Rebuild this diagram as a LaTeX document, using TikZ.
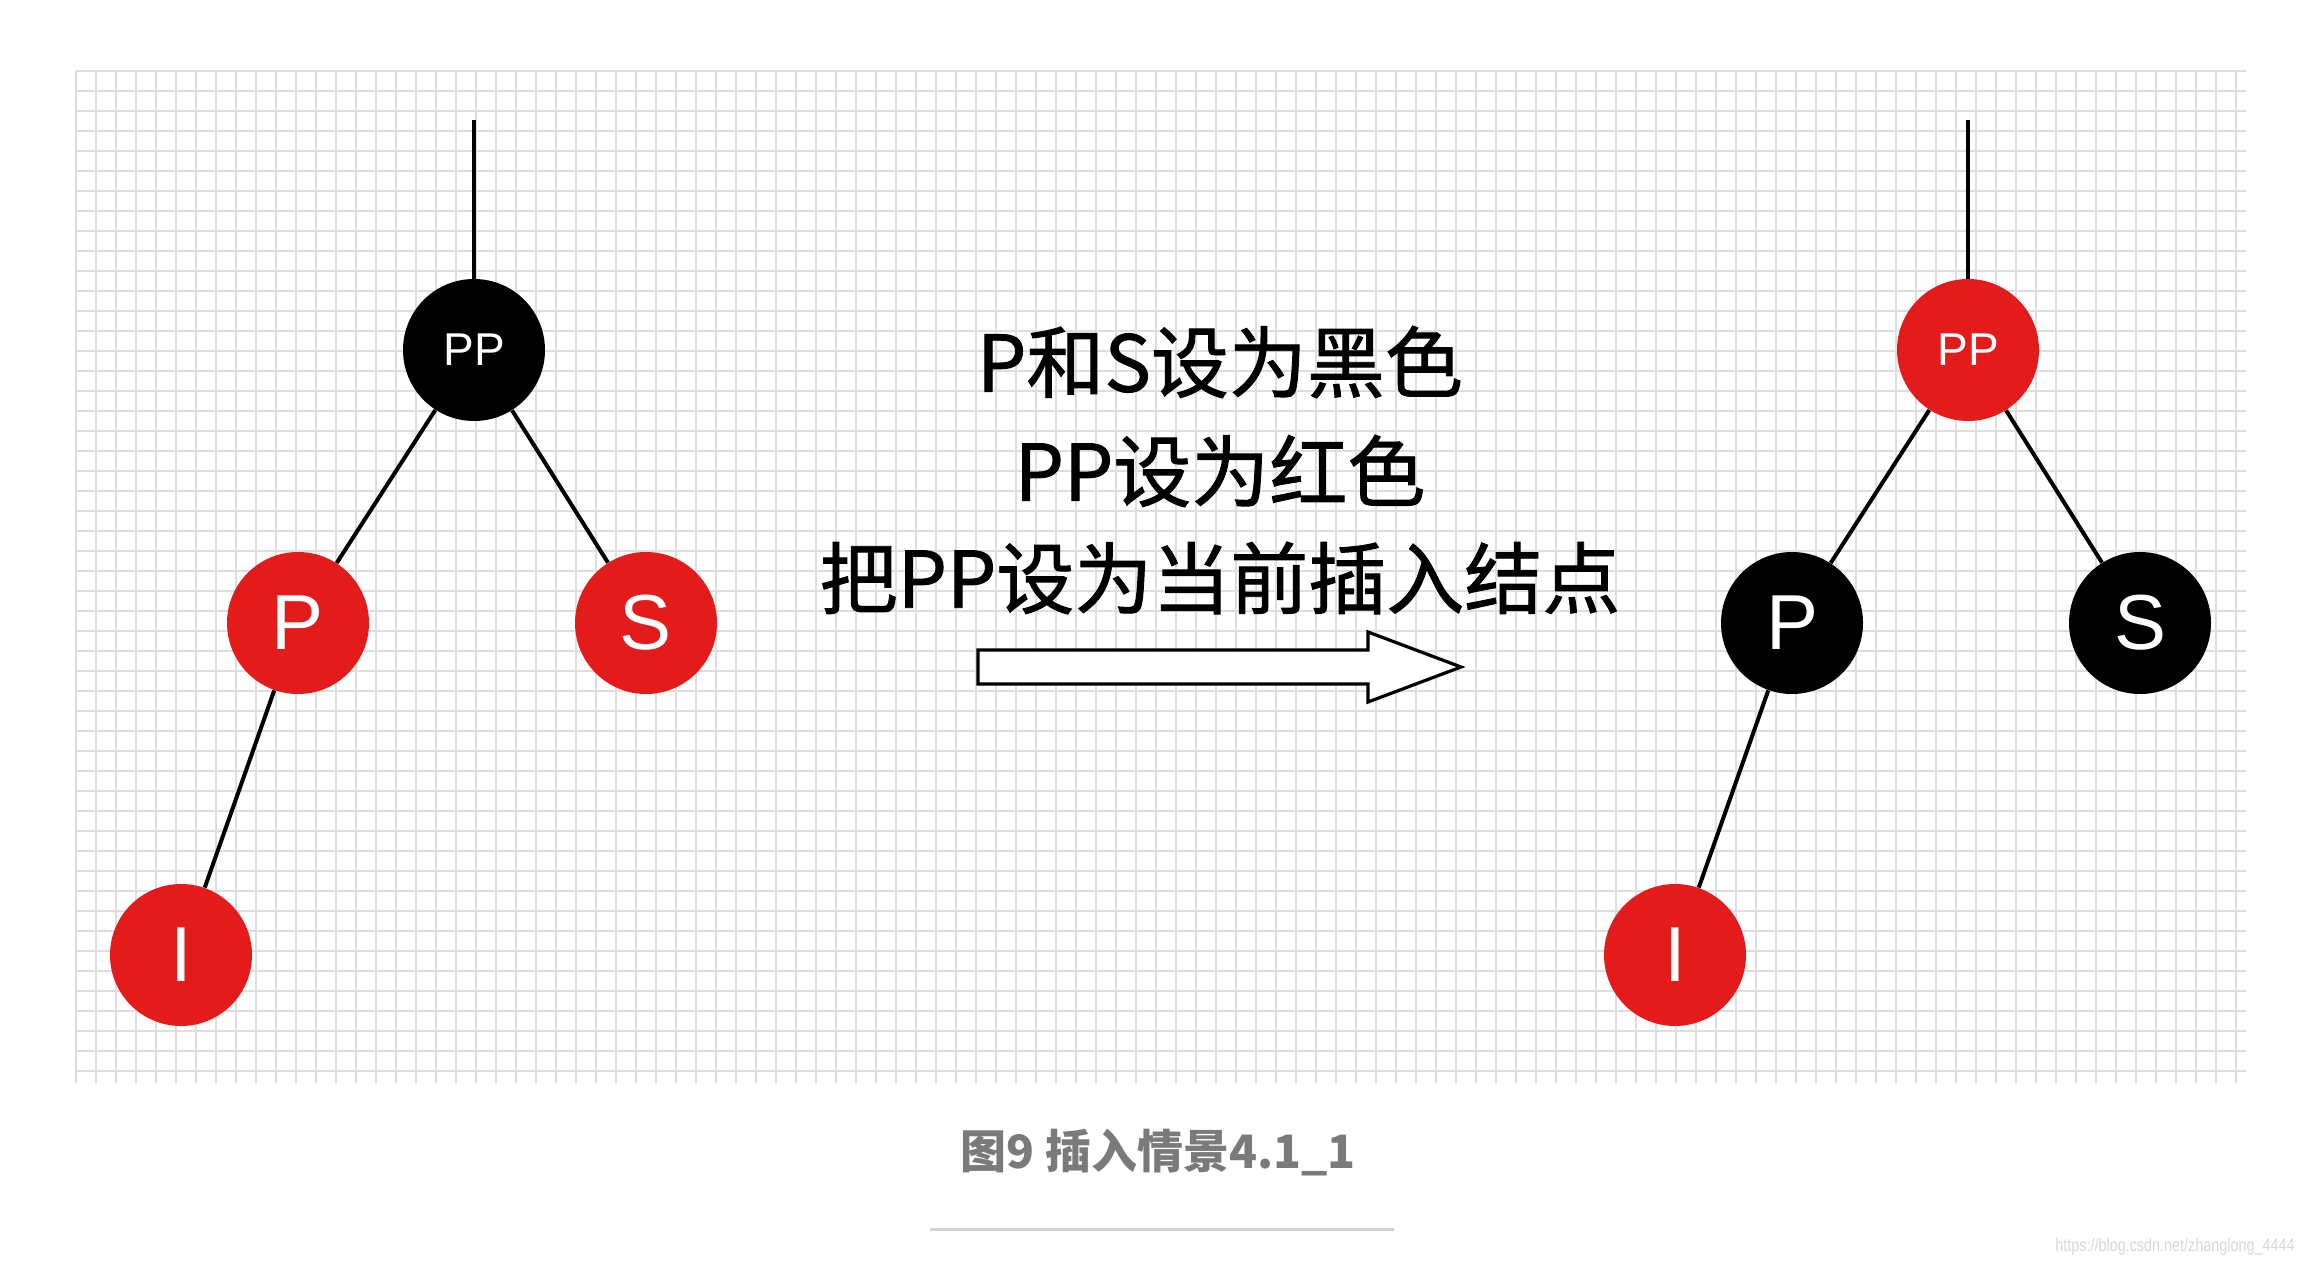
\documentclass[tikz,border=0pt]{standalone}
\usepackage{fontspec}
\setmainfont{Liberation Sans}
\newfontfamily\cjk{Noto Sans CJK SC}
\newfontfamily\cjkm[FakeBold=1.2]{Noto Sans CJK SC}
\newfontfamily\lat{Liberation Sans}
\definecolor{rbred}{HTML}{E41B1B}
\definecolor{gridc}{HTML}{DEDEDE}
\definecolor{capgray}{HTML}{7A7A7A}
\definecolor{rulegray}{HTML}{D2D2D2}
\definecolor{wmgray}{HTML}{D8D8D8}
\tikzset{
  rbnode/.style={circle, minimum size=71pt, inner sep=0pt, text=white, font=\lat\fontsize{39}{39}\selectfont},
  rbsmall/.style={rbnode, font=\lat\fontsize{23}{23}\selectfont},
  redn/.style={fill=rbred},
  blackn/.style={fill=black},
  edge/.style={draw=black, line width=2pt},
  gridline/.style={draw=gridc, line width=0.6pt},
  msg/.style={font=\cjkm\fontsize{39}{39}\selectfont, inner sep=0pt, anchor=center},
  blockarrow/.style={draw=black, fill=white, line width=1.6pt, line join=miter}
}
\begin{document}
\begin{tikzpicture}[x=0.5pt, y=-0.5pt]
\useasboundingbox (0,0) rectangle (2316,1262);
\fill[white] (0,0) rectangle (2316,1262);
% grid
\foreach \gx in {76,96,...,2246} { \draw[gridline] (\gx,71) -- (\gx,1083); }
\foreach \gy in {71,91,...,1083} { \draw[gridline] (76,\gy) -- (2246,\gy); }
% left tree
\coordinate (ltop) at (474,120);
\node[rbsmall, blackn] (lPP) at (474,350) {PP};
\node[rbnode, redn] (lP) at (298,623) {P};
\node[rbnode, redn] (lS) at (646,623) {S};
\node[rbnode, redn] (lI) at (181,955) {I};
\draw[edge] (ltop) -- (lPP);
\draw[edge] (lPP) -- (lP);
\draw[edge] (lPP) -- (lS);
\draw[edge] (lP) -- (lI);
% right tree
\coordinate (rtop) at (1968,120);
\node[rbsmall, redn] (rPP) at (1968,350) {PP};
\node[rbnode, blackn] (rP) at (1792,623) {P};
\node[rbnode, blackn] (rS) at (2140,623) {S};
\node[rbnode, redn] (rI) at (1675,955) {I};
\draw[edge] (rtop) -- (rPP);
\draw[edge] (rPP) -- (rP);
\draw[edge] (rPP) -- (rS);
\draw[edge] (rP) -- (rI);
% messages
\node[msg] (m1) at (1220,362) {P和S设为黑色};
\node[msg] (m2) at (1220,471) {PP设为红色};
\node[msg] (m3) at (1220,578) {把PP设为当前插入结点};
% block arrow
\draw[blockarrow] (978,650) -- (1368,650) -- (1368,632) -- (1461,667) -- (1368,702) -- (1368,684) -- (978,684) -- cycle;
% caption
\node[font=\cjk\bfseries\fontsize{23}{23}\selectfont, text=capgray, inner sep=0pt] (cap) at (1158,1153) {图9 插入情景4.1\_1};
\draw[draw=rulegray, line width=1.5pt] (930,1229) -- (1394,1229);
\node[font=\lat\fontsize{9}{9}\selectfont, text=wmgray, inner sep=0pt, xscale=0.8] (wm) at (2175,1247) {https://blog.csdn.net/zhanglong\_4444};
\end{tikzpicture}
\end{document}
